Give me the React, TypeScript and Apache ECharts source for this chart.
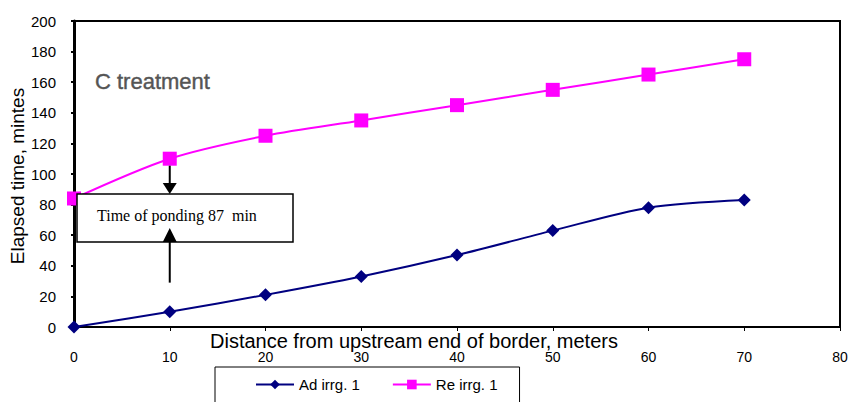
import React, { useEffect, useRef } from "react";
import * as echarts from "echarts";

// Distance from upstream end of border (m)
const distances = [0, 10, 20, 30, 40, 50, 60, 70];
// Advance time, irrigation 1 (min)
const advanceTimes = [0, 10, 21, 33, 47, 63, 78, 83];
// Recession time, irrigation 1 (min)
const recessionTimes = [84, 110, 125, 135, 145, 155, 165, 175];

const seriesNames = ["Ad irrg. 1", "Re irrg. 1"];
const pondingLabel = "Time of ponding 87  min";
const treatmentLabel = "C treatment";
const xTitle = "Distance from upstream end of border, meters";
const yTitle = "Elapsed time, mintes";

const SANS = "'Liberation Sans', Arial, sans-serif";
const NARROW = "'Liberation Sans Narrow', 'Liberation Sans', Arial, sans-serif";
const SERIF = "'Liberation Serif', 'Times New Roman', serif";

export default function App() {
  const ref = useRef<HTMLDivElement>(null);

  useEffect(() => {
    if (!ref.current) return;
    const chart = echarts.init(ref.current, undefined, { renderer: "svg" });

    const option: any = {
      animation: false,
      backgroundColor: "#fff",
      grid: {
        left: 74,
        right: 14,
        top: 21,
        bottom: 75,
        show: true,
        borderColor: "#000",
        borderWidth: 2,
        backgroundColor: "transparent",
      },
      xAxis: {
        type: "value",
        min: 0,
        max: 80,
        interval: 10,
        splitLine: { show: false },
        axisLine: { show: true, onZero: false, lineStyle: { color: "#000", width: 2 } },
        axisTick: { show: true, length: 4, lineStyle: { color: "#000" } },
        axisLabel: { margin: 23, color: "#000", fontSize: 14, fontFamily: NARROW },
      },
      yAxis: {
        type: "value",
        min: 0,
        max: 200,
        interval: 20,
        splitLine: { show: false },
        axisLine: { show: true, lineStyle: { color: "#000", width: 3 } },
        axisTick: { show: true, length: 3, lineStyle: { color: "#000", width: 2 } },
        axisLabel: { margin: 18, color: "#000", fontSize: 15, fontFamily: SANS },
      },
      legend: {
        left: 215,
        top: 367,
        data: seriesNames,
        borderColor: "#000",
        borderWidth: 1,
        padding: [10, 22, 24, 40],
        itemGap: 32,
        itemWidth: 38,
        itemHeight: 12,
        textStyle: { fontSize: 15, fontFamily: SANS, color: "#000" },
      },
      series: [
        {
          name: seriesNames[0],
          type: "line",
          smooth: 0.3,
          data: distances.map((d, i) => [d, advanceTimes[i]]),
          symbol: "diamond",
          symbolSize: 13,
          color: "#000080",
          lineStyle: { color: "#000080", width: 2 },
          itemStyle: { color: "#000080" },
          z: 3,
        },
        {
          name: seriesNames[1],
          type: "line",
          smooth: 0.3,
          data: distances.map((d, i) => [d, recessionTimes[i]]),
          symbol: "rect",
          symbolSize: 14,
          color: "#ff00ff",
          lineStyle: { color: "#ff00ff", width: 2 },
          itemStyle: { color: "#ff00ff" },
          z: 3,
        },
      ],
    };
    chart.setOption(option);

    // Annotation: ponding box with arrows at the 10 m station
    const [ax, topY] = chart.convertToPixel({ gridIndex: 0 }, [10, recessionTimes[1]]) as number[];
    const boxX = 77;
    const boxY = 194;
    const boxW = 216;
    const boxH = 48;
    const head = 7;
    const headH = 11;
    const bottomY = chart.convertToPixel({ gridIndex: 0 }, [10, 29])[1] as number;

    chart.setOption({
      graphic: [
        {
          type: "rect",
          shape: { x: boxX, y: boxY, width: boxW, height: boxH },
          style: { fill: "#fff", stroke: "#000", lineWidth: 1.5 },
          z: 10,
        },
        {
          type: "text",
          x: 97,
          y: boxY + 21,
          style: {
            text: pondingLabel,
            fontFamily: SERIF,
            fontSize: 16,
            fill: "#000",
            verticalAlign: "middle",
          },
          z: 11,
        },
        {
          type: "line",
          shape: { x1: ax, y1: topY + 7, x2: ax, y2: boxY - headH },
          style: { stroke: "#000", lineWidth: 2 },
          z: 11,
        },
        {
          type: "polygon",
          shape: { points: [[ax - head, boxY - headH], [ax + head, boxY - headH], [ax, boxY]] },
          style: { fill: "#000" },
          z: 11,
        },
        {
          type: "line",
          shape: { x1: ax, y1: boxY + boxH, x2: ax, y2: bottomY },
          style: { stroke: "#000", lineWidth: 2 },
          z: 11,
        },
        {
          type: "polygon",
          shape: {
            points: [[ax - head, boxY + boxH], [ax + head, boxY + boxH], [ax, boxY + boxH - headH - 3]],
          },
          style: { fill: "#000" },
          z: 11,
        },
        {
          type: "text",
          x: 95,
          y: 81,
          style: {
            text: treatmentLabel,
            fontFamily: SANS,
            fontSize: 22,
            fill: "#555",
            stroke: "#555",
            lineWidth: 0.4,
            verticalAlign: "middle",
          },
          z: 11,
        },
        {
          type: "text",
          x: 210,
          y: 341,
          style: {
            text: xTitle,
            fontFamily: SANS,
            fontSize: 20,
            fill: "#000",
            verticalAlign: "middle",
          },
          z: 11,
        },
        {
          type: "text",
          x: 17,
          y: 176,
          rotation: Math.PI / 2,
          style: {
            text: yTitle,
            fontFamily: SANS,
            fontSize: 19,
            fill: "#000",
            align: "center",
            verticalAlign: "middle",
          },
          z: 11,
        },
      ],
    });

    return () => chart.dispose();
  }, []);

  return <div ref={ref} style={{ width: 854, height: 402, position: "absolute", left: 0, top: 0 }} />;
}
